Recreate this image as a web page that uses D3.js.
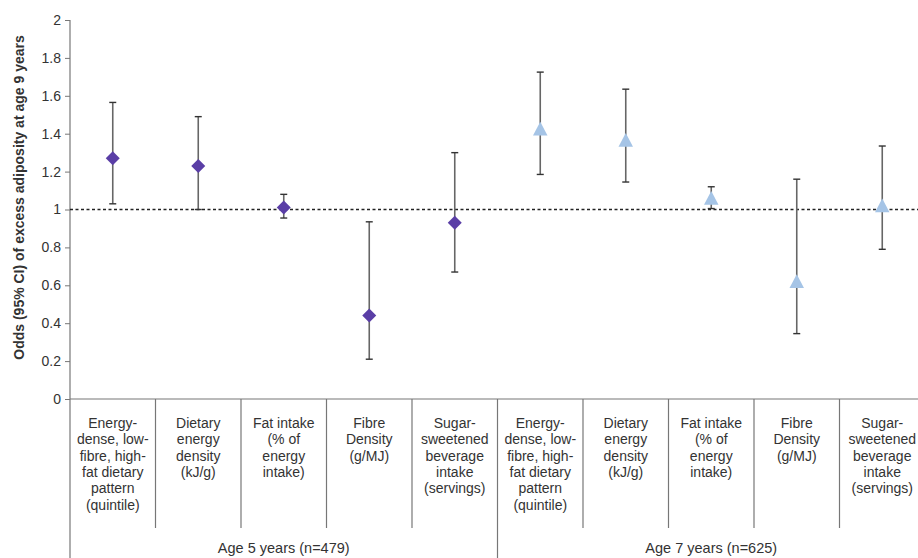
<!DOCTYPE html>
<html>
<head>
<meta charset="utf-8">
<script src="https://cdn.jsdelivr.net/npm/d3@7"></script>
<style>
  html, body { margin: 0; padding: 0; background: #fff; }
  svg { display: block; }
  text { font-family: "Liberation Sans", Arial, sans-serif; fill: #333; }
</style>
</head>
<body>
<div id="chart"></div>
<script>
// ---- Data ----
const groups = ["Age 5 years (n=479)", "Age 7 years (n=625)"];
const categoryLabels = [
  ["Energy-", "dense, low-", "fibre, high-", "fat dietary", "pattern", "(quintile)"],
  ["Dietary", "energy", "density", "(kJ/g)"],
  ["Fat intake", "(% of", "energy", "intake)"],
  ["Fibre", "Density", "(g/MJ)"],
  ["Sugar-", "sweetened", "beverage", "intake", "(servings)"]
];
const age5Odds  = [1.27, 1.23, 1.01, 0.44, 0.93];
const age5Lower = [1.03, 1.00, 0.955, 0.21, 0.67];
const age5Upper = [1.565, 1.49, 1.08, 0.935, 1.30];
const age7Odds  = [1.425, 1.365, 1.06, 0.62, 1.02];
const age7Lower = [1.185, 1.145, 1.005, 0.345, 0.79];
const age7Upper = [1.725, 1.635, 1.12, 1.16, 1.335];
const yTicks = [0, 0.2, 0.4, 0.6, 0.8, 1, 1.2, 1.4, 1.6, 1.8, 2];
const referenceLine = 1;

// ---- Build rows ----
const rows = [];
age5Odds.forEach((v, i) => rows.push({ id: "a5-" + i, group: 0, cat: i, odds: v, lo: age5Lower[i], hi: age5Upper[i] }));
age7Odds.forEach((v, i) => rows.push({ id: "a7-" + i, group: 1, cat: i, odds: v, lo: age7Lower[i], hi: age7Upper[i] }));

const W = 918, H = 558;
const left = 70, plotTop = 20, plotBottom = 399;
const bandW = 85.5;

const svg = d3.select("#chart").append("svg").attr("width", W).attr("height", H);

const x = d3.scaleBand().domain(rows.map(d => d.id)).range([left, left + bandW * rows.length]).padding(0);
const y = d3.scaleLinear().domain([0, 2]).range([plotBottom, plotTop]);

// Y axis
const yAxis = d3.axisLeft(y).tickValues(yTicks).tickSize(5).tickPadding(4)
  .tickFormat(d => d3.format("")(+d.toFixed(1)));
const gy = svg.append("g").attr("transform", `translate(${left},0)`).call(yAxis);
gy.select(".domain").attr("stroke", "#777").attr("stroke-width", 1.2).attr("d", `M0,${plotTop}V${H}`);
gy.selectAll(".tick line").attr("stroke", "#777");
gy.selectAll(".tick text").attr("fill", "#444").style("font-size", "14px")
  .style("font-family", '"Liberation Sans", Arial, sans-serif');

// X axis baseline
svg.append("line").attr("x1", left).attr("x2", W).attr("y1", y(0)).attr("y2", y(0))
  .attr("stroke", "#777").attr("stroke-width", 1.2);

// Category separators
rows.forEach((d, i) => {
  if (i === 0) return;
  const xs = x(d.id);
  const isGroupStart = d.cat === 0;
  svg.append("line").attr("x1", xs).attr("x2", xs).attr("y1", y(0))
    .attr("y2", isGroupStart ? H : 528).attr("stroke", "#777").attr("stroke-width", 1.2);
});

// Category labels
const lineH = 16.3;
rows.forEach(d => {
  const t = svg.append("text").attr("text-anchor", "middle")
    .attr("x", x(d.id) + x.bandwidth() / 2).attr("y", 428)
    .style("font-size", "14px");
  categoryLabels[d.cat].forEach((ln, k) => {
    t.append("tspan").attr("x", x(d.id) + x.bandwidth() / 2).attr("y", 428 + k * lineH).text(ln);
  });
});

// Group labels
groups.forEach((g, gi) => {
  const ids = rows.filter(r => r.group === gi).map(r => r.id);
  const x0 = x(ids[0]), x1 = x(ids[ids.length - 1]) + x.bandwidth();
  svg.append("text").attr("text-anchor", "middle").attr("x", (x0 + x1) / 2).attr("y", 553)
    .style("font-size", "14.5px").text(g);
});

// Reference line
svg.append("line").attr("x1", left).attr("x2", W).attr("y1", y(referenceLine)).attr("y2", y(referenceLine))
  .attr("stroke", "#222").attr("stroke-width", 1.3).attr("stroke-dasharray", "3,2.5");

// Y axis title
svg.append("text").attr("transform", `translate(24,${(32 + 363) / 2}) rotate(-90)`)
  .attr("text-anchor", "middle").style("font-size", "14px").style("font-weight", "bold")
  .attr("fill", "#222").text("Odds (95% CI) of excess adiposity at age 9 years");

// Error bars
const eb = svg.append("g");
rows.forEach(d => {
  const cx = x(d.id) + x.bandwidth() / 2;
  eb.append("line").attr("x1", cx).attr("x2", cx).attr("y1", y(d.lo)).attr("y2", y(d.hi))
    .attr("stroke", "#666").attr("stroke-width", 1.6);
  [d.lo, d.hi].forEach(v => {
    eb.append("line").attr("x1", cx - 3.5).attr("x2", cx + 3.5).attr("y1", y(v)).attr("y2", y(v))
      .attr("stroke", "#333").attr("stroke-width", 1.4);
  });
});

// Markers
const diamond = { draw(ctx, size) { const r = Math.sqrt(size) / 2; ctx.moveTo(0, -r); ctx.lineTo(r, 0); ctx.lineTo(0, r); ctx.lineTo(-r, 0); ctx.closePath(); } };
const triangle = { draw(ctx, size) { const r = Math.sqrt(size) / 2; ctx.moveTo(0, -r); ctx.lineTo(r, r * 0.9); ctx.lineTo(-r, r * 0.9); ctx.closePath(); } };
svg.append("g").selectAll("path").data(rows).join("path")
  .attr("transform", d => `translate(${x(d.id) + x.bandwidth() / 2},${y(d.odds)})`)
  .attr("d", d => d3.symbol().type(d.group === 0 ? diamond : triangle).size(d.group === 0 ? 196 : 210)())
  .attr("fill", d => d.group === 0 ? "#5a3ea6" : "#a5c4e6");
</script>
</body>
</html>
